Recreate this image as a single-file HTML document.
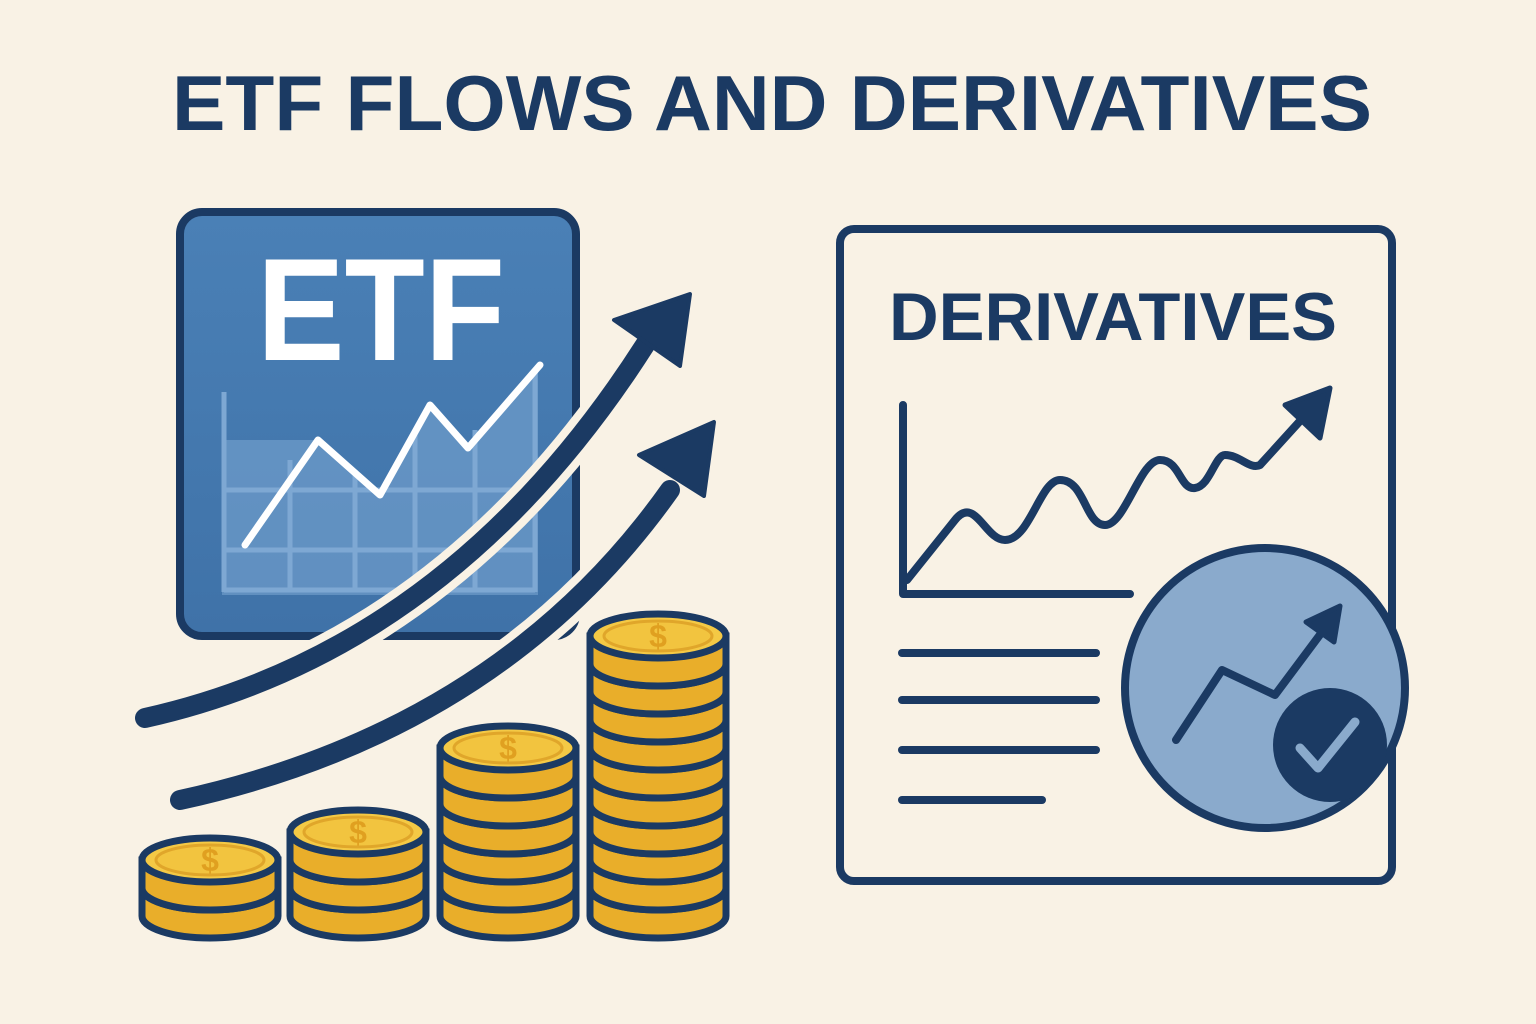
<!DOCTYPE html>
<html><head><meta charset="utf-8"><style>
html,body{margin:0;padding:0;background:#f9f2e5;}
svg{display:block}
</style></head><body>
<svg width="1536" height="1024" viewBox="0 0 1536 1024" xmlns="http://www.w3.org/2000/svg">
<defs>
<linearGradient id="g1" x1="0" y1="0" x2="0" y2="1"><stop offset="0" stop-color="#4a80b6"/><stop offset="1" stop-color="#3f72a8"/></linearGradient>
<g id="coin" stroke="#1b3a63" stroke-width="7">
<path d="M-68,0 L-68,28 A68,22 0 0 0 68,28 L68,0 Z" fill="#e9ae2a"/>
<ellipse cx="0" cy="0" rx="68" ry="22" fill="#f4c945"/>
</g>
<g id="face">
<ellipse cx="0" cy="0" rx="54" ry="15" fill="#f2c43f" stroke="#e0a62a" stroke-width="3"/>
<text x="0" y="11" text-anchor="middle" font-family="Liberation Sans, sans-serif" font-weight="bold" font-size="32" fill="#e0a020">$</text>
</g>
</defs>
<rect width="1536" height="1024" fill="#f9f2e5"/>
<text x="772" y="130" text-anchor="middle" font-family="Liberation Sans, sans-serif" font-weight="bold" font-size="78" fill="#1b3a63" textLength="1200" lengthAdjust="spacingAndGlyphs">ETF FLOWS AND DERIVATIVES</text>

<rect x="180" y="212" width="396" height="424" rx="22" fill="url(#g1)" stroke="#1b3a63" stroke-width="8"/>
<text x="381" y="360" text-anchor="middle" font-family="Liberation Sans, sans-serif" font-weight="bold" font-size="146" fill="#fff" textLength="248" lengthAdjust="spacingAndGlyphs">ETF</text>
<polygon points="222,440 318,440 380,495 430,405 468,448 538,370 538,595 222,595" fill="#6f9ccb" opacity="0.7"/>
<g stroke="#7ea8d3" stroke-width="5" fill="none">
<line x1="224" y1="392" x2="224" y2="592"/>
<line x1="290" y1="460" x2="290" y2="592"/>
<line x1="355" y1="470" x2="355" y2="592"/>
<line x1="415" y1="430" x2="415" y2="592"/>
<line x1="475" y1="430" x2="475" y2="592"/>
<line x1="535" y1="370" x2="535" y2="592"/>
<line x1="224" y1="490" x2="535" y2="490"/>
<line x1="224" y1="550" x2="535" y2="550"/>
<line x1="224" y1="590" x2="535" y2="590"/>
</g>
<polyline points="245,545 318,440 380,495 430,405 468,448 540,365" fill="none" stroke="#fff" stroke-width="7" stroke-linejoin="round" stroke-linecap="round"/>

<path d="M145,718 Q 450,650 645,345" fill="none" stroke="#f9f2e5" stroke-width="36" stroke-linecap="round"/>
<path d="M145,718 Q 450,650 645,345" fill="none" stroke="#1b3a63" stroke-width="20" stroke-linecap="round"/>
<polygon points="690,294 680,366 614,320" fill="#1b3a63" stroke="#1b3a63" stroke-width="4" stroke-linejoin="round"/>
<path d="M180,800 Q 500,730 670,490" fill="none" stroke="#f9f2e5" stroke-width="36" stroke-linecap="round"/>
<path d="M180,800 Q 500,730 670,490" fill="none" stroke="#1b3a63" stroke-width="20" stroke-linecap="round"/>
<polygon points="714,422 704,496 639,455" fill="#1b3a63" stroke="#1b3a63" stroke-width="4" stroke-linejoin="round"/>

<!-- coins -->
<use href="#coin" x="210" y="888"/><use href="#coin" x="210" y="860"/><use href="#face" x="210" y="860"/>
<use href="#coin" x="358" y="888"/><use href="#coin" x="358" y="860"/><use href="#coin" x="358" y="832"/><use href="#face" x="358" y="832"/>
<use href="#coin" x="508" y="888"/><use href="#coin" x="508" y="860"/><use href="#coin" x="508" y="832"/><use href="#coin" x="508" y="804"/><use href="#coin" x="508" y="776"/><use href="#coin" x="508" y="748"/><use href="#face" x="508" y="748"/>
<use href="#coin" x="658" y="888"/><use href="#coin" x="658" y="860"/><use href="#coin" x="658" y="832"/><use href="#coin" x="658" y="804"/><use href="#coin" x="658" y="776"/><use href="#coin" x="658" y="748"/><use href="#coin" x="658" y="720"/><use href="#coin" x="658" y="692"/><use href="#coin" x="658" y="664"/><use href="#coin" x="658" y="636"/><use href="#face" x="658" y="636"/>

<rect x="840" y="229" width="552" height="652" rx="14" fill="#f9f2e5" stroke="#1b3a63" stroke-width="8"/>
<text x="1113" y="340" text-anchor="middle" font-family="Liberation Sans, sans-serif" font-weight="bold" font-size="68" fill="#1b3a63" textLength="448" lengthAdjust="spacingAndGlyphs">DERIVATIVES</text>
<polyline points="903,405 903,594 1130,594" fill="none" stroke="#1b3a63" stroke-width="8" stroke-linecap="round" stroke-linejoin="round"/>
<path d="M907,580 L955,520 C975,495 985,540 1005,540 C1030,540 1040,480 1060,480 C1085,480 1085,525 1105,525 C1125,525 1140,460 1160,460 C1180,460 1180,490 1195,488 C1210,486 1215,455 1225,455 C1240,455 1250,470 1260,465 L1310,410" fill="none" stroke="#1b3a63" stroke-width="8" stroke-linecap="round" stroke-linejoin="round"/>
<polygon points="1330,388 1320,438 1285,405" fill="#1b3a63" stroke="#1b3a63" stroke-width="5" stroke-linejoin="round"/>
<g stroke="#1b3a63" stroke-width="8" stroke-linecap="round">
<line x1="902" y1="653" x2="1096" y2="653"/>
<line x1="902" y1="700" x2="1096" y2="700"/>
<line x1="902" y1="750" x2="1096" y2="750"/>
<line x1="902" y1="800" x2="1042" y2="800"/>
</g>
<circle cx="1265" cy="688" r="140" fill="#8aaacc" stroke="#1b3a63" stroke-width="8"/>
<polyline points="1176,740 1222,670 1275,695 1325,628" fill="none" stroke="#1b3a63" stroke-width="8" stroke-linecap="round" stroke-linejoin="round"/>
<polygon points="1340,606 1334,642 1306,622" fill="#1b3a63" stroke="#1b3a63" stroke-width="5" stroke-linejoin="round"/>
<circle cx="1330" cy="745" r="57" fill="#1b3a63"/>
<polyline points="1300,748 1318,768 1355,722" fill="none" stroke="#8aaacc" stroke-width="9" stroke-linecap="round" stroke-linejoin="round"/>
</svg>
</body></html>
